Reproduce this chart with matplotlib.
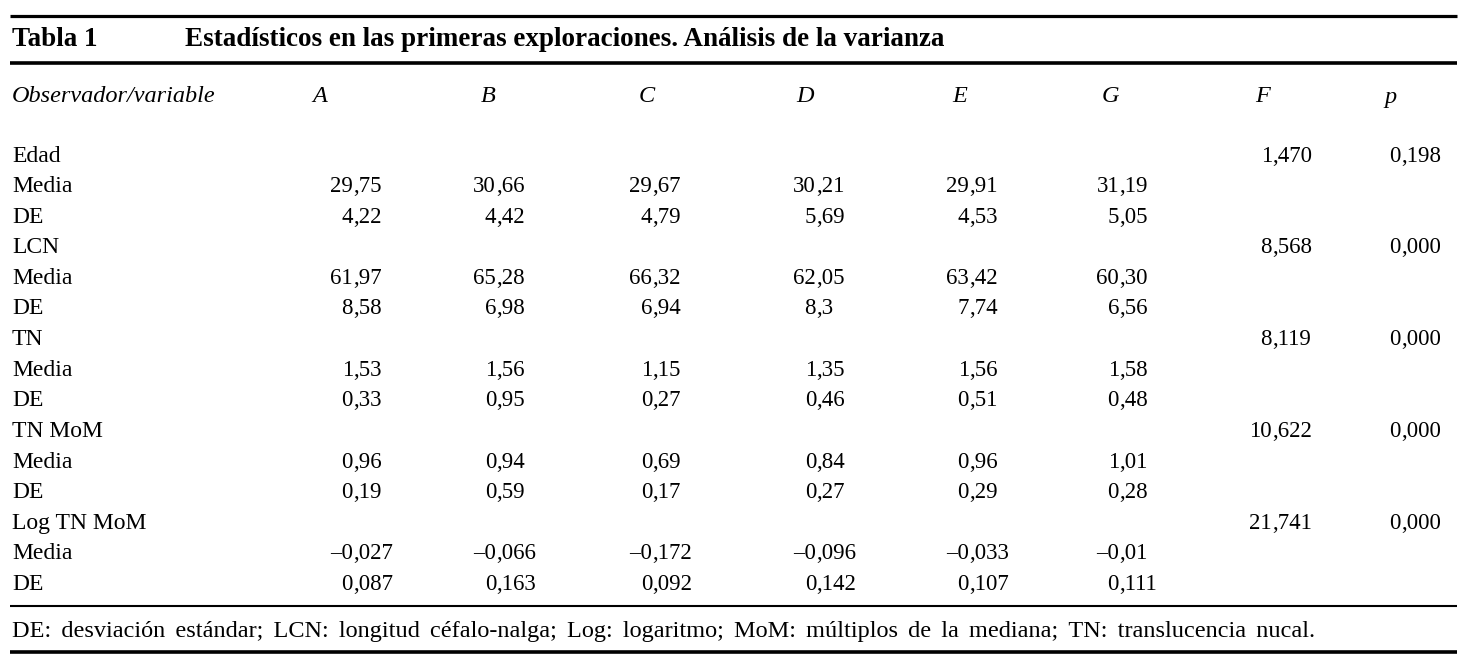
import matplotlib
matplotlib.use("Agg")
from matplotlib import pyplot as plt

###################################################################################################
# Table content
###################################################################################################
TABLE_NO = "Tabla 1"
TITLE = "Estadísticos en las primeras exploraciones. Análisis de la varianza"
HEAD_LABEL = "Observador/variable"
observers = ["A", "B", "C", "D", "E", "G"]
groups = ["Edad", "LCN", "TN", "TN MoM", "Log TN MoM"]
media = [["29,75", "30,66", "29,67", "30,21", "29,91", "31,19"],
         ["61,97", "65,28", "66,32", "62,05", "63,42", "60,30"],
         ["1,53", "1,56", "1,15", "1,35", "1,56", "1,58"],
         ["0,96", "0,94", "0,69", "0,84", "0,96", "1,01"],
         ["–0,027", "–0,066", "–0,172", "–0,096", "–0,033", "–0,01"]]
de = [["4,22", "4,42", "4,79", "5,69", "4,53", "5,05"],
      ["8,58", "6,98", "6,94", "8,3", "7,74", "6,56"],
      ["0,33", "0,95", "0,27", "0,46", "0,51", "0,48"],
      ["0,19", "0,59", "0,17", "0,27", "0,29", "0,28"],
      ["0,087", "0,163", "0,092", "0,142", "0,107", "0,111"]]
f_vals = ["1,470", "8,568", "8,119", "10,622", "21,741"]
p_vals = ["0,198", "0,000", "0,000", "0,000", "0,000"]
FOOTNOTE = ("DE: desviación estándar; LCN: longitud céfalo-nalga; Log: logaritmo; "
            "MoM: múltiplos de la mediana; TN: translucencia nucal.")

###################################################################################################
# Layout (pixel coordinates, y downwards)
###################################################################################################
W, H = 1472, 665
X_LEFT, X_RIGHT = 10, 1457
COMMA_X = [355, 498, 654, 818, 971, 1121]   # decimal alignment of observer columns
F_COMMA, P_COMMA = 1274, 1403
HEAD_X = [320, 488, 647, 805, 960, 1110]
F_HEAD_X, P_HEAD_X = 1263, 1390
ROW0_Y, ROW_DY = 156, 30.6
FS_LAB = 17        # row labels
FS_NUM = 16.5      # numbers
FS_HEAD = 17.5     # italic header
FS_TITLE = 19.5
FS_FOOT = 17.5
FOOT_Y = 631
FOOT_END = 1327    # footnote is spread out up to here
FONT = "Liberation Serif"

plt.rcParams["font.family"] = [FONT, "DejaVu Serif"]
fig = plt.figure(figsize=(W / 100, H / 100), dpi=100)
ax = fig.add_axes([0, 0, 1, 1])
ax.set_xlim(0, W)
ax.set_ylim(H, 0)
ax.axis("off")


def dec_text(x, y, s):
    # split at the comma so every column is aligned on its decimal sign
    left, right = s.split(",")
    ax.text(x - 2, y, left, ha="right", va="center", fontsize=FS_NUM)
    ax.text(x - 2, y, "," + right, ha="left", va="center", fontsize=FS_NUM)


# rules
ax.hlines(15.5, X_LEFT, X_RIGHT, color="black", lw=2.3)
ax.hlines(62.5, X_LEFT, X_RIGHT, color="black", lw=2.6)
ax.hlines(606, X_LEFT, X_RIGHT, color="black", lw=1.5)
ax.hlines(651.5, X_LEFT, X_RIGHT, color="black", lw=2.6)

# title
ax.text(X_LEFT + 2, 40, TABLE_NO, ha="left", va="center", fontsize=FS_TITLE, fontweight="bold")
ax.text(185, 40, TITLE, ha="left", va="center", fontsize=FS_TITLE, fontweight="bold")

# header
ax.text(X_LEFT + 2, 97, HEAD_LABEL, ha="left", va="center", fontsize=FS_HEAD, style="italic")
for x, lab in zip(HEAD_X, observers):
    ax.text(x, 97, lab, ha="center", va="center", fontsize=FS_HEAD, style="italic")
ax.text(F_HEAD_X, 97, "F", ha="center", va="center", fontsize=FS_HEAD, style="italic")
ax.text(P_HEAD_X, 97, "p", ha="center", va="center", fontsize=FS_HEAD, style="italic")

# body
row = 0
for g, name in enumerate(groups):
    y = ROW0_Y + row * ROW_DY
    ax.text(X_LEFT + 2, y, name, ha="left", va="center", fontsize=FS_LAB)
    dec_text(F_COMMA, y, f_vals[g])
    dec_text(P_COMMA, y, p_vals[g])
    row += 1
    for label, vals in (("Media", media[g]), ("DE", de[g])):
        y = ROW0_Y + row * ROW_DY
        ax.text(X_LEFT + 2, y, label, ha="left", va="center", fontsize=FS_LAB)
        for x, v in zip(COMMA_X, vals):
            dec_text(x, y, v)
        row += 1

# footnote: one string, word gaps widened with hair spaces to mimic justified type
renderer = fig.canvas.get_renderer()
foot = ax.text(X_LEFT + 2, FOOT_Y, FOOTNOTE, ha="left", va="center", fontsize=FS_FOOT)
base_w = foot.get_window_extent(renderer).width
probe = ax.text(0, 0, "a\u200aa", fontsize=FS_FOOT)
probe0 = ax.text(0, 0, "aa", fontsize=FS_FOOT)
hair_w = probe.get_window_extent(renderer).width - probe0.get_window_extent(renderer).width
probe.remove()
probe0.remove()
n_gaps = FOOTNOTE.count(" ")
extra = FOOT_END - (X_LEFT + 2) - base_w
k = max(0, int(round(extra / n_gaps / hair_w))) if hair_w > 0 else 1
foot.set_text(FOOTNOTE.replace(" ", " " + "\u200a" * k))

fig.savefig("out.png", dpi=100)
